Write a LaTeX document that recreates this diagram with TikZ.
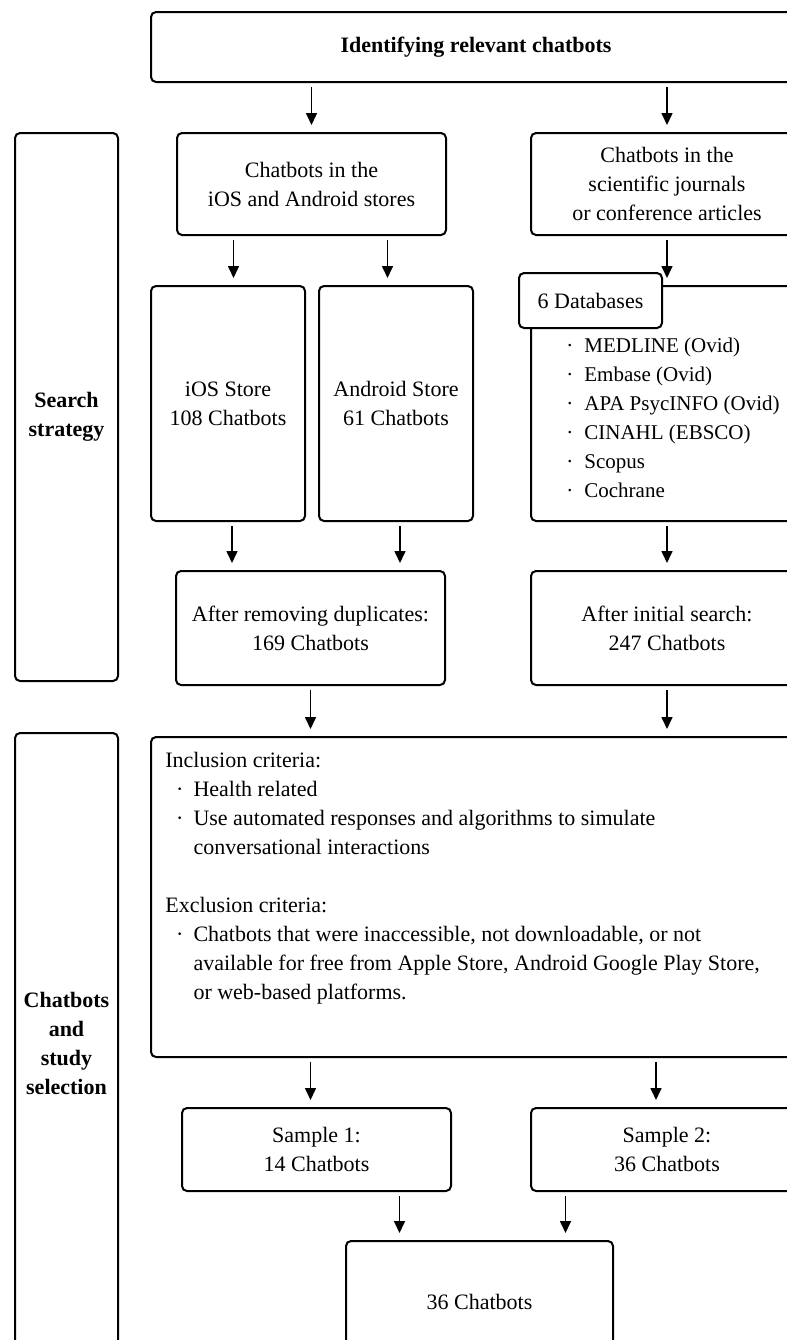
\documentclass[tikz,border=0pt]{standalone}
\usepackage{fontspec}
\setmainfont{Liberation Serif}
\usetikzlibrary{arrows.meta,positioning}

\begin{document}
\begin{tikzpicture}[
  box/.style={draw, line width=1pt, rounded corners=2.5pt, inner sep=0pt,
              align=center, font=\fontsize{11}{14.5}\selectfont},
  head/.style={box, font=\fontsize{11}{14.5}\selectfont\bfseries},
  lst/.style={inner sep=0pt, align=left, font=\fontsize{11}{14.5}\selectfont},
  arr/.style={-{Triangle[length=6pt,width=5.5pt]}, line width=0.8pt,
              shorten <=2pt, shorten >=3.5pt}]
\useasboundingbox (0,0) rectangle (393.5pt,-670pt);
\clip (0,0) rectangle (393.5pt,-670pt);
\node[head, minimum width=325pt, minimum height=35pt, anchor=north west]
  (ident) at (75pt,-5.5pt) {Identifying relevant chatbots};
\node[head, minimum width=51.5pt, minimum height=274pt,
      below right=24.5pt and -68pt of ident.south west] (search)
  {\mbox{}\\[3pt]Search\\strategy};
\node[box, minimum width=134.5pt, minimum height=51pt,
      below right=24.5pt and 13pt of ident.south west] (stores)
  {Chatbots in the\\iOS and Android stores};
\node[box, minimum width=136pt, minimum height=51pt,
      below right=0pt and 41.5pt of stores.north east] (journals)
  {Chatbots in the\\scientific journals\\or conference articles};
\node[box, minimum width=77pt, minimum height=117.5pt,
      below right=24.5pt and -13pt of stores.south west] (ios)
  {iOS Store\\108 Chatbots};
\node[box, minimum width=77pt, minimum height=117.5pt,
      below right=0pt and 6pt of ios.north east] (android)
  {Android Store\\61 Chatbots};
\node[box, minimum width=136pt, minimum height=117.5pt,
      below=24.5pt of journals] (dbs) {};
\node[box, fill=white, minimum width=71.5pt, minimum height=27.5pt,
      below right=-6.5pt and -6pt of dbs.north west] (dbtag) {6 Databases};
\node[lst, font=\fontsize{10.5}{14.5}\selectfont,
      below right=23.5pt and 18pt of dbs.north west] (dblist)
  {\begin{tabular}{@{}l@{\hspace{5.5pt}}l@{}}
   ·&MEDLINE (Ovid)\\ ·&Embase (Ovid)\\ ·&APA PsycINFO (Ovid)\\
   ·&CINAHL (EBSCO)\\ ·&Scopus\\ ·&Cochrane
   \end{tabular}};
\node[box, minimum width=134.5pt, minimum height=57pt,
      below right=24pt and 12.5pt of ios.south west] (dedup)
  {After removing duplicates:\\169 Chatbots};
\node[box, minimum width=136pt, minimum height=57pt,
      below=24pt of dbs] (initial) {After initial search:\\247 Chatbots};
\node[head, minimum width=51.5pt, minimum height=310.5pt,
      below=25pt of search] (select) {Chatbots\\and\\study\\selection};
\node[box, minimum width=325pt, minimum height=160pt,
      below right=25pt and -12.5pt of dedup.south west] (criteria) {};
\node[lst, below right=5.2pt and 7.5pt of criteria.north west] (critlist)
  {\begin{tabular}{@{\hspace{5.4pt}}l@{\hspace{5pt}}l@{}}
   \multicolumn{2}{@{}l@{}}{Inclusion criteria:}\\
   ·&Health related\\
   ·&Use automated responses and algorithms to simulate\\
    &conversational interactions\\
    &\\
   \multicolumn{2}{@{}l@{}}{Exclusion criteria:}\\
   ·&Chatbots that were inaccessible, not downloadable, or not\\
    &available for free from Apple Store, Android Google Play Store,\\
    &or web-based platforms.
   \end{tabular}};
\node[box, minimum width=134.5pt, minimum height=41.5pt,
      below right=24.5pt and 15.5pt of criteria.south west] (sample1)
  {Sample 1:\\14 Chatbots};
\node[box, minimum width=136pt, minimum height=41.5pt,
      below right=0pt and 39pt of sample1.north east] (sample2)
  {Sample 2:\\36 Chatbots};
\node[box, minimum width=133.5pt, minimum height=60.5pt,
      below right=24pt and 82pt of sample1.south west] (final) {36 Chatbots};
% connectors
\draw[arr] (ident.south -| stores.north) -- (stores.north);
\draw[arr] (ident.south -| journals.north) -- (journals.north);
\draw[arr] ([xshift=-39pt]stores.south) -- ([xshift=-39pt]stores.south |- ios.north);
\draw[arr] ([xshift=38pt]stores.south) -- ([xshift=38pt]stores.south |- android.north);
\draw[arr] (journals.south) -- (dbs.north);
\draw[arr] ([xshift=2pt]ios.south) -- ([xshift=2pt]ios.south |- dedup.north);
\draw[arr] ([xshift=2pt]android.south) -- ([xshift=2pt]android.south |- dedup.north);
\draw[arr] (dbs.south) -- (initial.north);
\draw[arr] (dedup.south) -- (dedup.south |- criteria.north);
\draw[arr] (initial.south) -- (initial.south |- criteria.north);
\draw[arr] ([xshift=-3pt]sample1.north |- criteria.south) -- ([xshift=-3pt]sample1.north);
\draw[arr] ([xshift=-5.5pt]sample2.north |- criteria.south) -- ([xshift=-5.5pt]sample2.north);
\draw[arr] ([xshift=-40pt]final.north |- sample1.south) -- ([xshift=-40pt]final.north);
\draw[arr] ([xshift=43pt]final.north |- sample2.south) -- ([xshift=43pt]final.north);
\end{tikzpicture}
\end{document}
